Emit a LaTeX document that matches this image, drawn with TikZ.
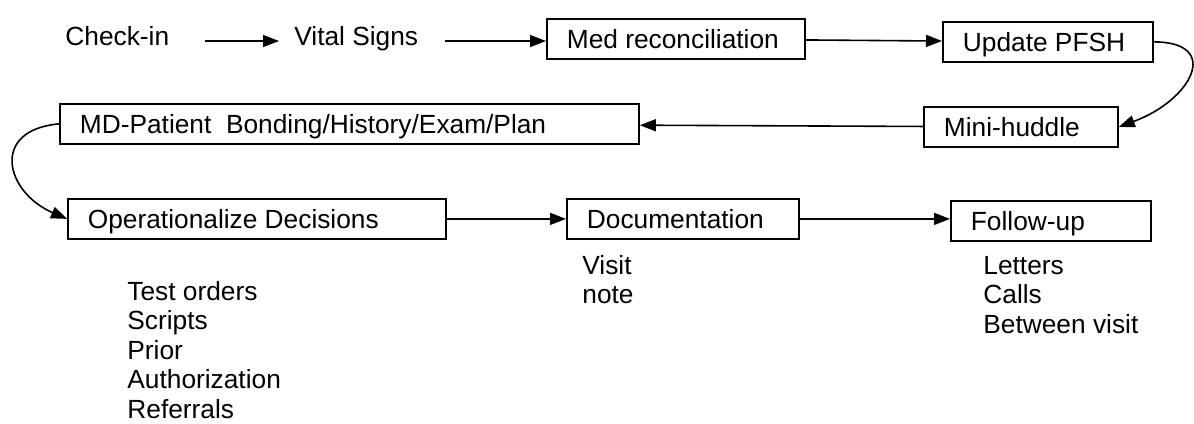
\documentclass[tikz,border=0pt]{standalone}
\usepackage{fontspec}
\setmainfont{Liberation Sans}
\usetikzlibrary{arrows.meta}
\tikzset{
  box/.style={draw, line width=0.9pt, anchor=north west, minimum height=20pt, inner xsep=10pt, inner ysep=0pt, align=flush left, text height=0.95em, text depth=0pt},
  plaintext/.style={inner sep=0pt, anchor=base west, text height=0.75em, text depth=0.25em},
  listtext/.style={inner sep=0pt, anchor=north west, align=left},
  flow/.style={-{Triangle[length=8pt, width=6pt]}, line width=0.8pt}
}

\begin{document}
\begin{tikzpicture}[x=0.5pt, y=-0.5pt, font=\fontsize{13.15}{14.75}\selectfont]
  \useasboundingbox (0,0) rectangle (1194,423);
  % top row
  \node[plaintext] (checkin) at (65,46) {Check-in};
  \node[plaintext] (vital) at (294,46) {Vital Signs};
  \node[box, text width=109pt] (med) at (546,18) {Med reconciliation};
  \node[box, text width=85pt] (pfsh) at (942,21) {Update PFSH};
  % middle row
  \node[box, text width=269.5pt] (md) at (59,103) {MD-Patient\ \ Bonding/History/Exam/Plan};
  \node[box, text width=77pt] (mini) at (923,106) {Mini-huddle};
  % bottom row
  \node[box, text width=169pt] (oper) at (67,198) {Operationalize Decisions};
  \node[box, text width=96pt] (doc) at (566,198) {Documentation};
  \node[box, text width=80pt] (follow) at (950,200) {Follow-up};
  % notes under the boxes
  \node[listtext] (operlist) at (127,281) {Test orders\\Scripts\\Prior\\Authorization\\Referrals};
  \node[listtext] (doclist) at (582,255) {Visit\\note};
  \node[listtext] (followlist) at (983,256) {Letters\\Calls\\Between visit};
  % connectors
  \draw[flow, shorten <=17.5pt, shorten >=7.5pt] (checkin) -- (vital);
  \draw[flow, shorten <=13pt] (vital.east) -- (vital.east -| med.west);
  \draw[flow] (med) -- (pfsh);
  \draw[flow] (pfsh.east) .. controls (1222,42) and (1192,100) .. (mini.east);
  \draw[flow] (mini) -- (md);
  \draw[flow] (md.west) .. controls (-10,130) and (5,192) .. (oper.west);
  \draw[flow] (oper) -- (doc);
  \draw[flow] (doc.east) -- (doc.east -| follow.west);
\end{tikzpicture}
\end{document}
